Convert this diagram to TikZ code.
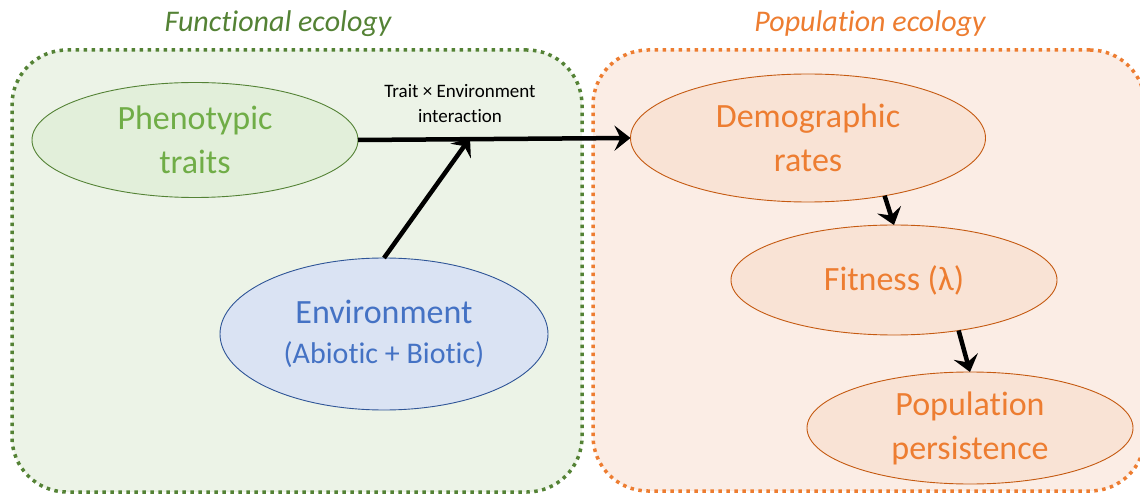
\documentclass[tikz,border=0pt]{standalone}
\usepackage{fontspec}
\setmainfont{Carlito}[Ligatures=NoCommon]
\usetikzlibrary{shapes.geometric,arrows.meta}

\definecolor{fundark}{HTML}{548235}
\definecolor{funtext}{HTML}{70AD47}
\definecolor{funfill}{HTML}{E2EFDA}
\definecolor{funzone}{HTML}{ECF3E7}
\definecolor{envdark}{HTML}{2F5597}
\definecolor{envtext}{HTML}{4472C4}
\definecolor{envfill}{HTML}{DAE3F3}
\definecolor{popdark}{HTML}{C55A11}
\definecolor{poptext}{HTML}{ED7D31}
\definecolor{popfill}{HTML}{F9E3D5}
\definecolor{popzone}{HTML}{FBEDE5}

\tikzset{
  zone/.style={rectangle, line width=3.5pt, dash pattern=on 3.5pt off 4.5pt,
    rounded corners=55pt},
  ell/.style={ellipse, line width=0.9pt, inner sep=0pt, outer sep=0pt,
    align=center, font=\fontsize{34}{44}\selectfont},
  zonetitle/.style={font=\fontsize{30}{36}\selectfont\itshape},
  link/.style={line width=4.5pt, -{Stealth[length=16pt,width=25pt,inset=6pt]}}
}

\begin{document}
\begin{tikzpicture}[x=1pt,y=-1pt]
  \clip (0,0) rectangle (1140,494);

  % Zones
  \node[zone, draw=poptext, fill=popzone, minimum width=552pt, minimum height=441pt]
    (popzone) at (869,270.5) {};
  \node[zone, draw=fundark, fill=funzone, minimum width=570pt, minimum height=442pt]
    (funzone) at (297,271) {};
  \node[zonetitle, text=fundark] (funtitle) at (278,24) {Functional ecology};
  \node[zonetitle, text=poptext] (poptitle) at (870,24) {Population ecology};

  % Ellipses
  \node[ell, draw=fundark, fill=funfill, text=funtext, minimum width=326pt, minimum height=115pt]
    (traits) at (195,140) {Phenotypic\\traits};
  \node[ell, draw=envdark, fill=envfill, text=envtext, minimum width=328pt, minimum height=152pt]
    (env) at (384,334) {Environment\\[-4pt]{\fontsize{30}{36}\selectfont (Abiotic + Biotic)}};
  \node[ell, draw=popdark, fill=popfill, text=poptext, minimum width=355pt, minimum height=128pt]
    (demo) at (808,138) {Demographic\\rates};
  \node[ell, draw=popdark, fill=popfill, text=poptext, minimum width=326pt, minimum height=110pt]
    (fit) at (894,280) {Fitness (λ)};
  \node[ell, draw=popdark, fill=popfill, text=poptext, minimum width=326pt, minimum height=112pt]
    (persist) at (970,428) {Population\\persistence};

  % Arrows
  \coordinate (junc) at (470,138);
  \draw[link] (traits.east) -- (demo.west);
  \draw[link] (env.north) -- (junc);
  \draw[link] (demo.-37) -- (fit.north);
  \draw[link] (fit.-38) -- (persist.north);

  % Interaction label
  \node[align=center, font=\fontsize{19}{25}\selectfont] (inter) at (460,104)
    {Trait × Environment\\interaction};
\end{tikzpicture}
\end{document}
